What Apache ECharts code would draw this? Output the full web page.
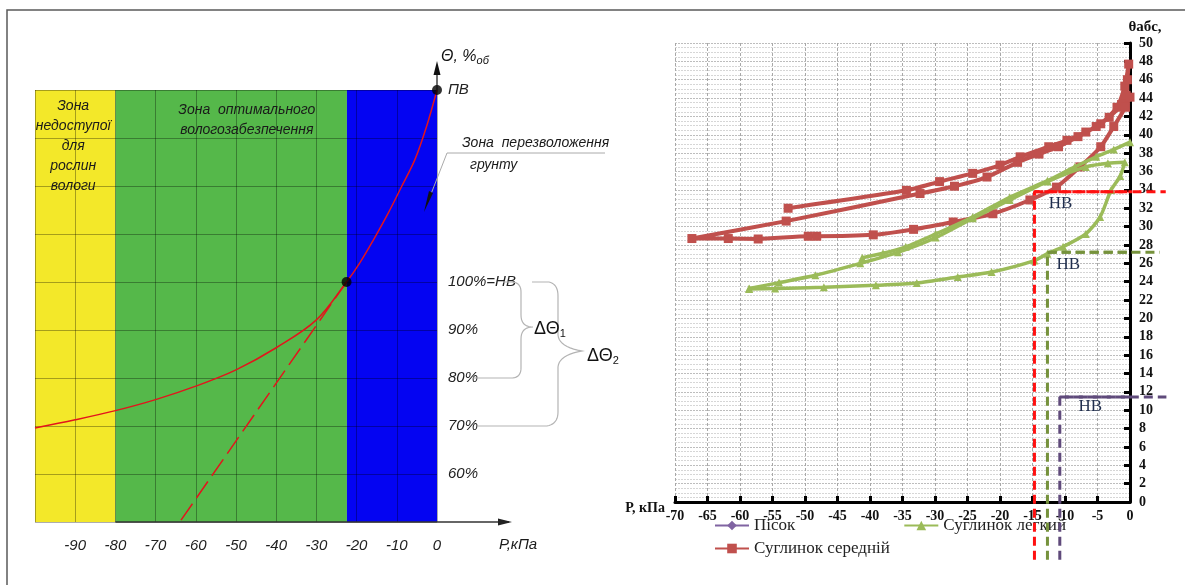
<!DOCTYPE html>
<html><head><meta charset="utf-8">
<script src="https://cdn.jsdelivr.net/npm/echarts@6/dist/echarts.min.js"></script>
<style>html,body{margin:0;padding:0;background:#fff}#c{width:1185px;height:585px}</style>
</head><body><div id="c"></div>
<script>
// ===== Left chart (schematic) data =====
const leftXMin = -100, leftXMax = 0, leftYMin = 50, leftYMax = 140;
const zoneFrom = [-100, -80, -22.4];
const zoneTo = [-80, -22.4, 0];
const curveP = [-100, -90, -80, -70, -60, -50, -40, -30, -22.5, -19.2, -15.8, -12.1, -8.8, -5.5, -2.6, 0];
const curveTheta = [69.6, 71.3, 73.2, 75.5, 78.3, 81.7, 86.3, 92.1, 100, 104.0, 108.8, 114.4, 119.9, 125.5, 132.4, 140];
const tangentP = [-22.5, -64];
const tangentTheta = [100, 50];
const pointP = [0, -22.5];
const pointTheta = [140, 100];
const leftYLabels = {140: 'ПВ', 100: '100%=НВ', 90: '90%', 80: '80%', 70: '70%', 60: '60%'};

// ===== Right chart data =====
const seriesNames = ['Пісок', 'Суглинок легкий', 'Суглинок середній'];
const sandData = [];
const lightLoamUpper = [[-41.2,26.6],[-38,27.1],[-34.5,27.8],[-29.9,29.2],[-24.2,31.05],[-18.5,33.2],[-12.7,35.0],[-8.5,36.5],[-5.2,37.6],[-2.5,38.4],[0,39.2]];
const lightLoamLoop = [[-58.6,23.25],[-54,23.9],[-48.4,24.7],[-41.5,26.0],[-35.7,27.2],[-29.9,28.8],[-24.2,30.9],[-18.5,32.9],[-12.7,34.9],[-6.8,36.5],[-3.4,36.9],[-0.8,37.0],[-1.5,35.5],[-2.9,34.0],[-4.6,31.05],[-6.8,29.2],[-10.3,27.8],[-12.7,27.05],[-14.7,26.3],[-21.3,25.05],[-26.5,24.5],[-32.8,23.85],[-39.1,23.6],[-47.1,23.4],[-54.6,23.25],[-58.6,23.2]];
const mediumLoamPath = [
  [-52.6,32.0],[-34.4,33.95],[-29.3,34.9],[-24.2,35.8],[-20,36.7],[-16.9,37.6],[-12.5,38.7],[-9.7,39.4],[-6.8,40.3],[-4.5,41.2],[-2.0,43.0],[-0.8,45.3],[-0.2,47.7],
  [-0.4,46.0],[-0.6,44.3],[-1.3,43.3],[-3.2,41.9],[-5.2,40.9],[-8,39.8],[-11,38.7],[-14,37.9],[-17.3,37.0],[-22,35.4],[-27,34.4],[-32.3,33.6],[-52.9,30.6],[-67.4,28.7],
  [-61.8,28.7],[-57.2,28.65],[-49.5,28.95],[-48.2,28.95],[-39.5,29.1],[-33.3,29.7],[-27.2,30.5],[-21.1,31.4],[-15.4,32.9],[-11.3,34.3],[-7.7,36.5],[-4.5,38.7],[-2.5,40.9],[-0.7,43.0],[0,44.1]
];
const nvRed = [[-14.7,-6.3],[-14.7,33.8],[5.5,33.8]];
const nvGreen = [[-12.7,-6.3],[-12.7,27.2],[4.6,27.2]];
const nvPurple = [[-10.8,-6.3],[-10.8,11.45],[5.6,11.45]];
const nvLabelPos = [[-10.7,32.5],[-9.5,25.9],[-6.1,10.4]];

// ===== styles =====
const zoneColors = ['#f3e829', '#55b84a', '#0404f2'];
const nvColors = ['#ff1010', '#76923c', '#5f4a7b'];
const FL = '"Liberation Sans Narrow","Liberation Sans",sans-serif';
const FS = '"Liberation Serif","Times New Roman",serif';
const gridLineL = {color: 'rgba(0,0,0,0.32)', width: 1};

const chart = echarts.init(document.getElementById('c'), null, {renderer: 'canvas'});

const option = {
  animation: false,
  backgroundColor: '#fff',
  grid: [
    {left: 35, top: 90, width: 402, height: 432},
    {left: 675, top: 43, width: 455, height: 459}
  ],
  legend: [
    {data: ['Пісок', 'Суглинок легкий'], left: 714, top: 517, padding: 0, itemGap: 108, itemWidth: 34, itemHeight: 12,
     selectedMode: false, textStyle: {fontFamily: FS, fontSize: 17, color: '#222'}},
    {data: ['Суглинок середній'], left: 714, top: 540, padding: 0, itemWidth: 34, itemHeight: 12,
     selectedMode: false, textStyle: {fontFamily: FS, fontSize: 17, color: '#222'}}
  ],
  xAxis: [
    {gridIndex: 0, type: 'value', min: leftXMin, max: leftXMax, interval: 10, z: 3,
     axisLine: {show: false}, axisTick: {show: false},
     axisLabel: {formatter: v => v === leftXMin ? '' : String(v), fontFamily: FL, fontStyle: 'italic', fontSize: 15, color: '#222', margin: 16},
     splitLine: {show: true, lineStyle: gridLineL}},
    {gridIndex: 1, type: 'value', min: -70, max: 0, interval: 5, z: 4,
     axisLine: {show: true, onZero: false, lineStyle: {color: '#000', width: 3}},
     axisTick: {show: true, inside: true, length: 6, lineStyle: {color: '#000', width: 3}},
     axisLabel: {fontFamily: FS, fontWeight: 'bold', fontSize: 14, color: '#111', margin: 7},
     splitLine: {show: true, lineStyle: {color: '#a8a8a8', width: 1, type: [3, 2]}}}
  ],
  yAxis: [
    {gridIndex: 0, type: 'value', position: 'right', min: leftYMin, max: leftYMax, interval: 10, z: 3,
     axisLine: {show: false}, axisTick: {show: false},
     axisLabel: {formatter: v => leftYLabels[v] || '', fontFamily: FL, fontStyle: 'italic', fontSize: 15, color: '#222', margin: 11, showMaxLabel: true},
     splitLine: {show: true, lineStyle: gridLineL}},
    {gridIndex: 1, type: 'value', position: 'right', min: 0, max: 50, interval: 2, z: 4,
     name: 'θабс,', nameLocation: 'end', nameGap: 8,
     nameTextStyle: {fontFamily: FS, fontWeight: 'bold', fontSize: 15, color: '#111', padding: [0, 0, 0, 30]},
     axisLine: {show: true, onZero: false, lineStyle: {color: '#000', width: 3}},
     axisTick: {show: true, inside: true, length: 6, lineStyle: {color: '#000', width: 3}},
     axisLabel: {fontFamily: FS, fontWeight: 'bold', fontSize: 14, color: '#111', margin: 9},
     splitLine: {show: true, lineStyle: {color: '#bdbdbd', width: 1, type: [2, 1]}},
     minorTick: {show: false, splitNumber: 4},
     minorSplitLine: {show: true, lineStyle: {color: '#d6d6d6', width: 1, type: [2, 1]}}}
  ],
  series: [
    {type: 'custom', xAxisIndex: 0, yAxisIndex: 0, z: 1, silent: true,
     data: zoneFrom.map((f, i) => [f, zoneTo[i], i]),
     encode: {x: [0, 1]},
     renderItem: (params, api) => {
       const p0 = api.coord([api.value(0), leftYMax]);
       const p1 = api.coord([api.value(1), leftYMin]);
       return {type: 'rect', shape: {x: p0[0], y: p0[1], width: p1[0] - p0[0], height: p1[1] - p0[1]},
               style: {fill: zoneColors[api.value(2)]}};
     }},
    {type: 'line', name: 'curve', xAxisIndex: 0, yAxisIndex: 0, z: 5, silent: true,
     data: curveP.map((p, i) => [p, curveTheta[i]]), smooth: 0.35, showSymbol: false,
     lineStyle: {color: '#e3141c', width: 1.5}},
    {type: 'line', name: 'tangent', xAxisIndex: 0, yAxisIndex: 0, z: 5, silent: true,
     data: tangentP.map((p, i) => [p, tangentTheta[i]]), showSymbol: false,
     lineStyle: {color: '#e3141c', width: 1.5, type: [20, 7]}},
    {type: 'scatter', name: 'points', xAxisIndex: 0, yAxisIndex: 0, z: 6, silent: true,
     data: pointP.map((p, i) => [p, pointTheta[i]]), symbolSize: 10, itemStyle: {color: '#000'}},

    {type: 'line', name: 'Пісок', xAxisIndex: 1, yAxisIndex: 1, data: sandData,
     symbol: 'diamond', symbolSize: 11, itemStyle: {color: '#8064A2'}, lineStyle: {color: '#8064A2', width: 4}},
    {type: 'line', name: 'Суглинок легкий', xAxisIndex: 1, yAxisIndex: 1, data: lightLoamUpper, z: 6,
     smooth: 0.25, symbol: 'triangle', symbolSize: 8, itemStyle: {color: '#9BBB59'}, lineStyle: {color: '#9BBB59', width: 3.5}},
    {type: 'line', name: 'Суглинок легкий', xAxisIndex: 1, yAxisIndex: 1, data: lightLoamLoop, z: 6,
     smooth: 0.25, symbol: 'triangle', symbolSize: 8, itemStyle: {color: '#9BBB59'}, lineStyle: {color: '#9BBB59', width: 3.5}},
    {type: 'line', name: 'Суглинок середній', xAxisIndex: 1, yAxisIndex: 1, data: mediumLoamPath, z: 5,
     smooth: 0.2, symbol: 'rect', symbolSize: 9, itemStyle: {color: '#C0504D'}, lineStyle: {color: '#C0504D', width: 4}}
  ].concat([nvRed, nvGreen, nvPurple].map((d, i) => ({
     type: 'line', name: 'nv' + i, xAxisIndex: 1, yAxisIndex: 1, data: d, clip: false, z: 7, silent: true,
     showSymbol: false, lineStyle: {color: nvColors[i], width: 3, type: [9, 5]}})))
};
chart.setOption(option);

// ===== annotations positioned through the axes =====
const L = (x, y) => chart.convertToPixel({gridIndex: 0}, [x, y]);
const R = (x, y) => chart.convertToPixel({gridIndex: 1}, [x, y]);
const x0 = L(0, 100)[0];
const yTop = L(0, leftYMax)[1];
const yBot = L(0, leftYMin)[1];
const y100 = L(0, 100)[1], y80 = L(0, 80)[1], y70 = L(0, 70)[1];
const txtL = {fontFamily: FL, fontStyle: 'italic', fontSize: 14, fill: '#1a1a1a'};
const g = [];

// path commands -> polyline points
function pathPoints(cmds) {
  const pts = [];
  let cur = null;
  cmds.forEach(c => {
    if (c[0] === 'M' || c[0] === 'L') { cur = [c[1], c[2]]; pts.push(cur); }
    else if (c[0] === 'Q') {
      const p0 = cur, cp = [c[1], c[2]], p1 = [c[3], c[4]];
      for (let t = 1; t <= 10; t++) {
        const s = t / 10, a = (1 - s) * (1 - s), b = 2 * (1 - s) * s, d = s * s;
        pts.push([a * p0[0] + b * cp[0] + d * p1[0], a * p0[1] + b * cp[1] + d * p1[1]]);
      }
      cur = p1;
    }
  });
  return pts;
}

// frame
g.push({type: 'polyline', shape: {points: [[7, 585], [7, 10], [1185, 10]]}, style: {stroke: '#5a5a5a', lineWidth: 1.5, fill: null}, z: 20});
// y arrow
g.push({type: 'line', shape: {x1: x0, y1: yTop, x2: x0, y2: yTop - 24}, style: {stroke: '#111', lineWidth: 1.2}, z: 20});
g.push({type: 'polygon', shape: {points: [[x0, yTop - 29], [x0 - 3.5, yTop - 15], [x0 + 3.5, yTop - 15]]}, style: {fill: '#111'}, z: 20});
g.push({type: 'text', x: x0 + 4, y: yTop - 33, style: {text: '{a|Θ, %}{s|об}', rich: {a: {fontFamily: FL, fontStyle: 'italic', fontSize: 16, fill: '#111'}, s: {fontFamily: FL, fontStyle: 'italic', fontSize: 11, fill: '#111', padding: [8, 0, 0, 0]}}, verticalAlign: 'middle'}, z: 20});
// x arrow
const xa0 = L(-80, leftYMin);
g.push({type: 'line', shape: {x1: xa0[0], y1: yBot, x2: x0 + 72, y2: yBot}, style: {stroke: '#333', lineWidth: 1.5}, z: 20});
g.push({type: 'polygon', shape: {points: [[x0 + 75, yBot], [x0 + 61, yBot - 3.5], [x0 + 61, yBot + 3.5]]}, style: {fill: '#222'}, z: 20});
g.push({type: 'text', x: x0 + 62, y: yBot + 23, style: Object.assign({text: 'Р,кПа', verticalAlign: 'middle'}, txtL, {fontSize: 15}), z: 20});
// zone texts
g.push({type: 'text', x: L(-90.5, 0)[0], y: yTop + 6, style: Object.assign({text: 'Зона\nнедоступої\nдля\nрослин\nвологи', align: 'center', verticalAlign: 'top', lineHeight: 20}, txtL), z: 20});
g.push({type: 'text', x: L(-47.3, 0)[0], y: yTop + 10, style: Object.assign({text: 'Зона  оптимального\nвологозабезпечення', align: 'center', verticalAlign: 'top', lineHeight: 20}, txtL), z: 20});
// over-wetting zone leader
g.push({type: 'text', x: x0 + 25, y: yTop + 53, style: Object.assign({text: 'Зона  перезволоження', verticalAlign: 'middle'}, txtL), z: 20});
g.push({type: 'text', x: x0 + 33, y: yTop + 75, style: Object.assign({text: 'грунту', verticalAlign: 'middle'}, txtL), z: 20});
g.push({type: 'polyline', shape: {points: [[x0 + 168, yTop + 63], [x0 + 10, yTop + 63], [x0 - 6, yTop + 104]]}, style: {stroke: '#aaa', lineWidth: 1, fill: null}, z: 20});
g.push({type: 'polygon', shape: {points: [[x0 - 13, yTop + 122], [x0 - 8, yTop + 101], [x0 - 4, yTop + 103]]}, style: {fill: '#111'}, z: 20});
// braces
const ym1 = (y100 + y80) / 2 - 3;
const b1 = [['M', x0 + 66, y100], ['L', x0 + 74, y100], ['Q', x0 + 84, y100, x0 + 84, y100 + 10], ['L', x0 + 84, ym1 - 12],
  ['Q', x0 + 84, ym1, x0 + 96, ym1], ['Q', x0 + 84, ym1, x0 + 84, ym1 + 12], ['L', x0 + 84, y80 - 10],
  ['Q', x0 + 84, y80, x0 + 74, y80], ['L', x0 + 36, y80]];
const ym2 = (y100 + y70) / 2 - 3;
const b2 = [['M', x0 + 95, y100], ['L', x0 + 112, y100], ['Q', x0 + 121, y100 + 2, x0 + 121, y100 + 14], ['L', x0 + 121, ym2 - 16],
  ['Q', x0 + 122, ym2 - 4, x0 + 145, ym2], ['Q', x0 + 122, ym2 + 4, x0 + 121, ym2 + 16], ['L', x0 + 121, y70 - 14],
  ['Q', x0 + 121, y70 - 2, x0 + 110, y70], ['L', x0 + 41, y70]];
g.push({type: 'polyline', shape: {points: pathPoints(b1)}, style: {stroke: '#b4b4b4', lineWidth: 1.2, fill: null}, z: 20});
g.push({type: 'polyline', shape: {points: pathPoints(b2)}, style: {stroke: '#b4b4b4', lineWidth: 1.2, fill: null}, z: 20});
const dRich = {a: {fontFamily: FL, fontSize: 18, fill: '#111'}, s: {fontFamily: FL, fontSize: 11, fill: '#111', padding: [9, 0, 0, 0]}};
g.push({type: 'text', x: x0 + 97, y: ym1 + 2, style: {text: '{a|ΔΘ}{s|1}', rich: dRich, verticalAlign: 'middle'}, z: 21});
g.push({type: 'text', x: x0 + 150, y: ym2 + 5, style: {text: '{a|ΔΘ}{s|2}', rich: dRich, verticalAlign: 'middle'}, z: 21});
// right chart x-axis title
const rOrigin = R(-70, 0);
g.push({type: 'text', x: rOrigin[0] - 10, y: rOrigin[1] + 6, style: {text: 'Р, кПа', fontFamily: FS, fontWeight: 'bold', fontSize: 14, fill: '#111', align: 'right', verticalAlign: 'middle'}, z: 21});
// НВ reference lines: extension beyond the right axis
[nvRed, nvGreen, nvPurple].forEach((d, i) => {
  const a = R(d[1][0], d[1][1]), b = R(d[2][0], d[2][1]);
  g.push({type: 'line', shape: {x1: a[0], y1: a[1], x2: b[0], y2: b[1]}, style: {stroke: nvColors[i], lineWidth: 3, lineDash: [9, 5]}, z: 19});
});
// НВ labels on right chart
nvLabelPos.forEach(p => {
  const q = R(p[0], p[1]);
  g.push({type: 'text', x: q[0], y: q[1], style: {text: 'НВ', fontFamily: FS, fontSize: 17, fill: '#1f2d4d', align: 'center', verticalAlign: 'middle'}, z: 21});
});
chart.setOption({graphic: g});
</script>
</body></html>
